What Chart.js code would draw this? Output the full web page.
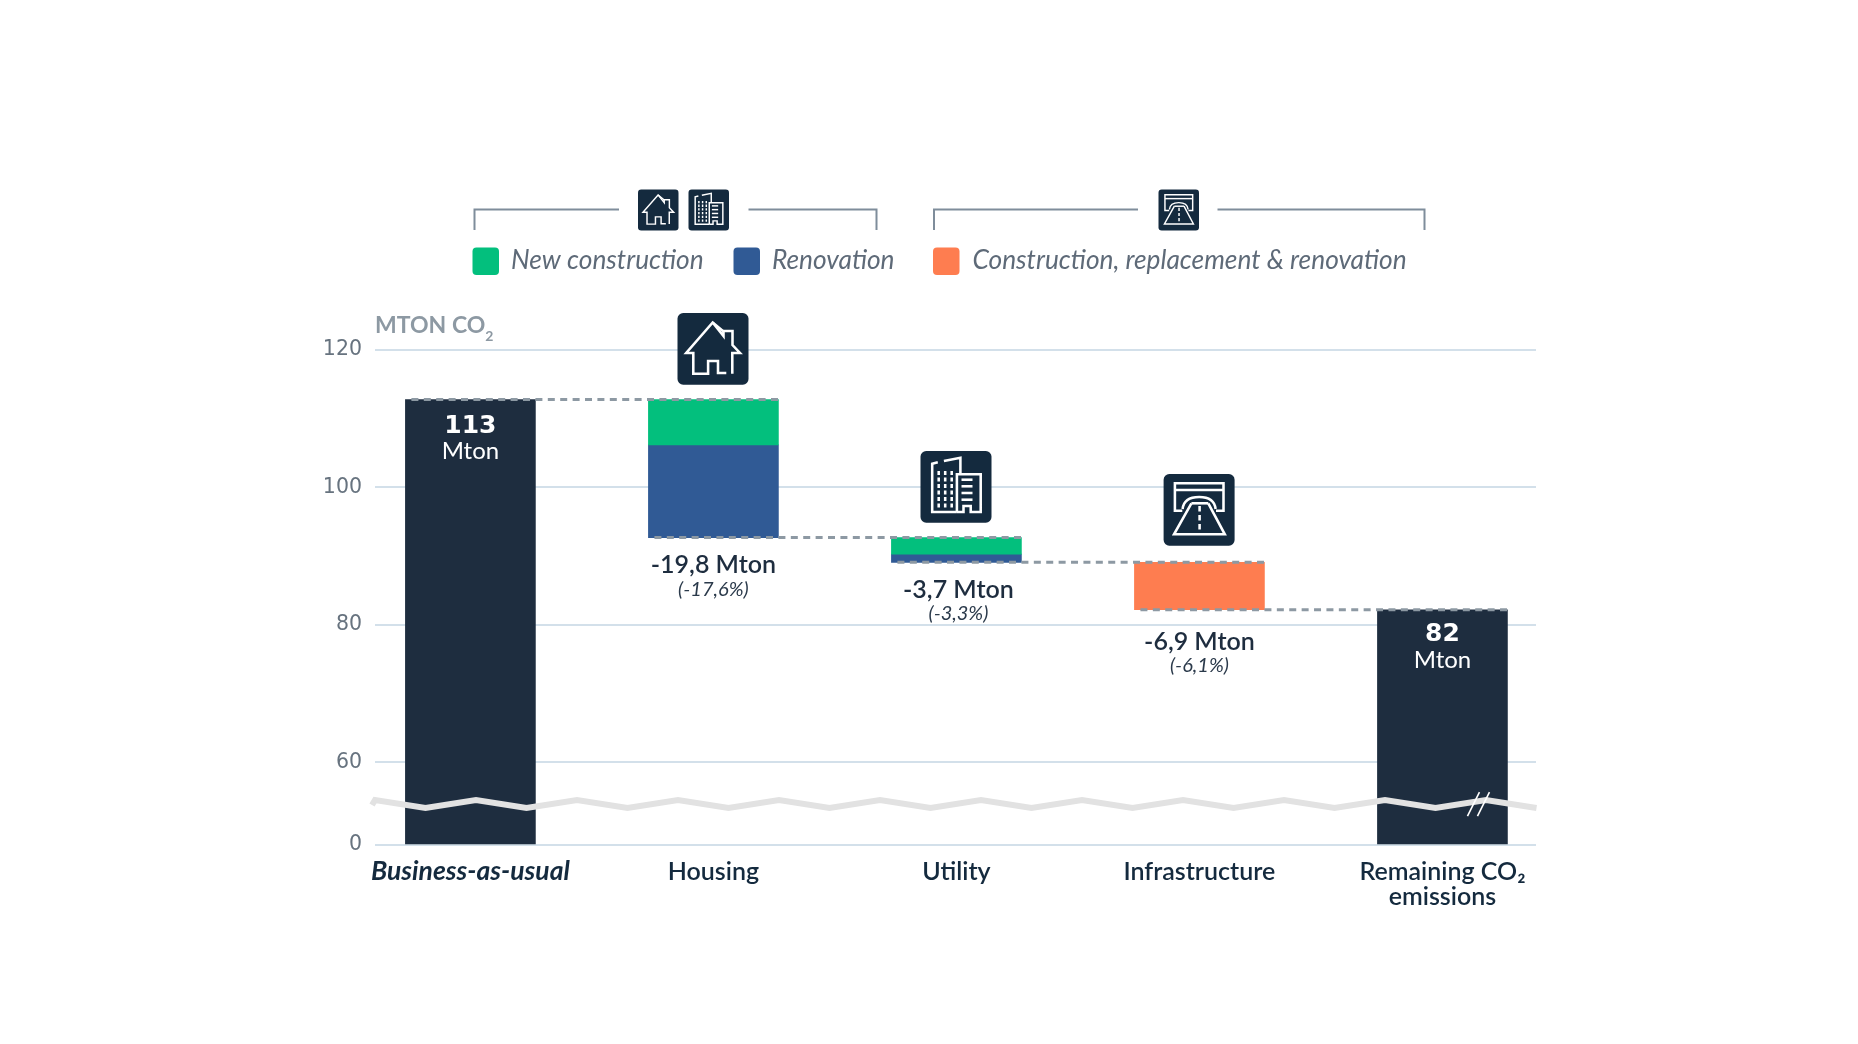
<!DOCTYPE html>
<html><head><meta charset="utf-8">
<style>html,body{margin:0;padding:0;background:#fff}canvas{display:block}</style>
<script src="https://cdn.jsdelivr.net/npm/chart.js@4/dist/chart.umd.js"></script>
</head><body><canvas id="c" width="1858" height="1044"></canvas>
<script>
const CATEGORIES = ['Business-as-usual','Housing','Utility','Infrastructure',['Remaining CO₂','emissions']];
const Y_TICKS = [0,60,80,100,120];
const TOTALS = [112.8,null,null,null,82.2];
const NEW_CONSTRUCTION = [null,[106.2,112.8],[90.3,92.7],null,null];
const RENOVATION = [null,[92.7,106.2],[89.1,90.3],null,null];
const INFRASTRUCTURE = [null,null,null,[82.2,89.1],null];
const CONNECTORS = [112.8,92.7,89.1,82.2];
const TOTAL_LABELS = ['113',null,null,null,'82'];
const DELTA_LABELS = [null,'-19,8 Mton','-3,7 Mton','-6,9 Mton',null];
const PERCENT_LABELS = [null,'(-17,6%)','(-3,3%)','(-6,1%)',null];

const NAVY='#1e2d3f', ICON_BG='#142a3e', GREEN='#03bf7d', BLUE='#305a95', ORANGE='#fe7d50';
const FONT='Lato, "Noto Sans", sans-serif';

class BrokenLinearScale extends Chart.LinearScale {
  _dec(v){const b=this.options.breakValue,f=this.options.breakFraction;
    return v<=b? v/b*f : f+(v-b)/(this.max-b)*(1-f);}
  getPixelForValue(v){return v===null?NaN:this.getPixelForDecimal(this._dec(v));}
}
BrokenLinearScale.id='brokenLinear';
BrokenLinearScale.defaults=Chart.LinearScale.defaults;
class PaddedCategoryScale extends Chart.CategoryScale {
  getPixelForValue(v){
    if(typeof v!=='number') v=this.parse(v);
    if(v===null) return NaN;
    const o=this.options;
    return this.getPixelForDecimal((v-o.rangeStart)/(o.rangeEnd-o.rangeStart));
  }
}
PaddedCategoryScale.id='paddedCategory';
PaddedCategoryScale.defaults=Chart.CategoryScale.defaults;
Chart.register(BrokenLinearScale,PaddedCategoryScale);

function iconBox(ctx,x,y,s){
  ctx.fillStyle=ICON_BG;ctx.beginPath();ctx.roundRect(x,y,s,s*1.01,s*0.08);ctx.fill();
  ctx.strokeStyle='#fff';ctx.lineWidth=Math.max(1.2,s*0.036);ctx.lineJoin='miter';ctx.lineCap='butt';
}
function poly(ctx,x,y,k,pts){ctx.beginPath();pts.forEach((p,i)=>i?ctx.lineTo(x+p[0]*k,y+p[1]*k):ctx.moveTo(x+p[0]*k,y+p[1]*k));ctx.stroke();}
function drawIcon(ctx,name,x,y,s){
  iconBox(ctx,x,y,s);const k=s/71;
  if(name==='house'){
    poly(ctx,x,y,k,[[46,18.5],[35.2,9.5],[8.7,40],[15.8,40],[15.8,60.7],[30.6,60.7],[30.6,48],[40.5,48],[40.5,60],[48.8,60]]);
    poly(ctx,x,y,k,[[35.2,9.5],[46,23],[46,18],[55,18],[55,32],[62.5,40],[54.8,40],[54.8,60.7]]);
  } else if(name==='building'){
    poly(ctx,x,y,k,[[17.3,11.3],[11.7,12.7],[11.7,61],[36.4,61]]);
    poly(ctx,x,y,k,[[23.4,10],[39.9,6.7],[39.9,22.7]]);
    poly(ctx,x,y,k,[[36.4,61],[36.4,23.3],[60.2,23.3],[60.2,61],[50.2,61],[50.2,55],[43,55],[43,61],[36.4,61]]);
    [28.7,35.3,42,48.7].forEach(v=>poly(ctx,x,y,k,[[41,v],[52,v]]));
    ctx.setLineDash([4*k,2.5*k]);
    [18.2,24.7,31.2].forEach(v=>poly(ctx,x,y,k,[[v,20],[v,57]]));
    ctx.setLineDash([]);
  } else {
    poly(ctx,x,y,k,[[18.7,36.7],[11.3,36.7],[11.3,9.3],[59.9,9.3],[59.9,36.7],[52.4,36.7]]);
    poly(ctx,x,y,k,[[11.3,16],[59.9,16]]);
    ctx.beginPath();ctx.moveTo(x+19*k,y+35*k);ctx.bezierCurveTo(x+20*k,y+26*k,x+27*k,y+23*k,x+35.6*k,y+23*k);ctx.bezierCurveTo(x+44*k,y+23*k,x+51*k,y+26*k,x+52*k,y+35*k);ctx.stroke();
    poly(ctx,x,y,k,[[27.8,29.3],[10.4,60.3],[61.2,60.3],[44.7,29.3]]);
    poly(ctx,x,y,k,[[27.8,29.3],[44.7,29.3]]);
    ctx.setLineDash([5.5*k,3.5*k]);poly(ctx,x,y,k,[[36,32],[36,57]]);ctx.setLineDash([]);
  }
}
function text(ctx,str,x,y,font,color,align){
  ctx.font=font;ctx.fillStyle=color;ctx.textAlign=align||'center';ctx.textBaseline='middle';ctx.fillText(str,x,y);
}

const overlay={
  id:'overlay',
  afterDatasetsDraw(chart){
    const {ctx,scales:{x,y},data}=chart, half=chart.getDatasetMeta(0).data[0].width/2;
    ctx.save();
    ctx.strokeStyle='#8d99a3';ctx.lineWidth=3;ctx.setLineDash([7,5.4]);
    CONNECTORS.forEach((v,i)=>{
      const py=y.getPixelForValue(v);
      ctx.beginPath();ctx.moveTo(x.getPixelForValue(i)-half+6,py);ctx.lineTo(x.getPixelForValue(i+1)+half,py);ctx.stroke();
    });
    ctx.setLineDash([]);
    // axis break
    ctx.strokeStyle='#e2e2e2';ctx.lineWidth=6;ctx.lineJoin='miter';
    ctx.beginPath();
    const bp=y.getPixelForValue(29.7), period=(x.getPixelForValue(1)-x.getPixelForValue(0))/2.406;
    const xs=chart.chartArea.left, xe=chart.chartArea.right;
    let step=0;ctx.moveTo(xs-3,bp+1);
    for(let px=xs;px<=xe+1;px+=period/2,step++) ctx.lineTo(px,bp+(step%2? 4:-4));
    ctx.stroke();
    const cx=x.getPixelForValue(4);
    ctx.strokeStyle='#fff';ctx.lineWidth=1.6;
    [0,10].forEach(d=>{ctx.beginPath();ctx.moveTo(cx+25+d,bp+12);ctx.lineTo(cx+37+d,bp-12);ctx.stroke();});
    const labelColor='#1e2d3f';
    CATEGORIES.forEach((c,i)=>{
      const cxx=x.getPixelForValue(i);
      if(TOTAL_LABELS[i]){
        const top=y.getPixelForValue(TOTALS[i]);
        text(ctx,TOTAL_LABELS[i],cxx,top+(i?25:27),'bold 25px "DejaVu Sans"','#fff');
        text(ctx,'Mton',cxx,top+(i?50:52),'24px '+FONT,'#fff');
      }
      if(DELTA_LABELS[i]){
        const bot=y.getPixelForValue(NEW_CONSTRUCTION[i]?RENOVATION[i][0]:INFRASTRUCTURE[i][0]);
        const extra=i===3?4.5:0;
        text(ctx,DELTA_LABELS[i],cxx+(i===2?2:0),bot+27.5+extra,'600 25px '+FONT,labelColor);
        text(ctx,PERCENT_LABELS[i],cxx+(i===2?2:0),bot+51.5+extra,'italic 20px '+FONT,'#2b3a4b');
      }
    });
    ctx.textBaseline='alphabetic';ctx.textAlign='left';ctx.fillStyle='#8d99a3';
    ctx.font='bold 23px '+FONT;ctx.fillText('MTON CO',chart.chartArea.left,333);
    const w=ctx.measureText('MTON CO').width;
    ctx.font='bold 14px '+FONT;ctx.fillText('2',chart.chartArea.left+w,341);
    [[677.5,313,'house'],[920.5,451,'building'],[1163.6,474,'road']].forEach(a=>drawIcon(ctx,a[2],a[0],a[1],71));
    ctx.strokeStyle='#7f8d9b';ctx.lineWidth=2;
    [[[474.5,230],[474.5,209.5],[619,209.5]],[[748.5,209.5],[876.5,209.5],[876.5,230]],
     [[934,230],[934,209.5],[1138,209.5]],[[1217.5,209.5],[1424.5,209.5],[1424.5,230]]]
      .forEach(p=>poly(ctx,0,0,1,p));
    [[638,189.5,'house'],[688.5,189.5,'building'],[1158.5,189.5,'road']].forEach(a=>drawIcon(ctx,a[2],a[0],a[1],40.5));
    [[472.5,511,1],[733.5,772,2],[933,972.5,3]].forEach(a=>{
      const ds=data.datasets[a[2]];
      ctx.fillStyle=ds.backgroundColor;ctx.beginPath();ctx.roundRect(a[0],247.5,26.5,27.5,4);ctx.fill();
      text(ctx,ds.label,a[1],261,'italic 26.3px '+FONT,'#5e6a78','left');
    });
    ctx.restore();
  }
};

new Chart(document.getElementById('c'),{
  type:'bar',
  data:{labels:CATEGORIES,datasets:[
    {label:'Total',data:TOTALS,backgroundColor:NAVY},
    {label:'New construction',data:NEW_CONSTRUCTION,backgroundColor:GREEN},
    {label:'Renovation',data:RENOVATION,backgroundColor:BLUE},
    {label:'Construction, replacement & renovation',data:INFRASTRUCTURE,backgroundColor:ORANGE}
  ]},
  options:{
    responsive:false,animation:false,devicePixelRatio:1,
    layout:{padding:{left:275,right:322,top:350,bottom:99}},
    datasets:{bar:{grouped:false,barThickness:130,borderWidth:0,borderSkipped:false}},
    plugins:{legend:{display:false},tooltip:{enabled:false},title:{display:false}},
    scales:{
      x:{type:'paddedCategory',rangeStart:-0.3926,rangeEnd:4.385,
        afterFit:s=>{s.height=100},
        grid:{display:false},border:{display:false},
        ticks:{autoSkip:false,maxRotation:0,minRotation:0,padding:6,color:'#142a3e',
          font:c=>c.index===0?{family:FONT,size:26.5,weight:'bold',style:'italic',lineHeight:0.95}:{family:FONT,size:25,weight:'600',lineHeight:1}}},
      y:{type:'brokenLinear',min:0,max:120,breakValue:60,breakFraction:0.167,
        afterFit:s=>{s.width=100},
        afterBuildTicks:s=>{s.ticks=Y_TICKS.map(v=>({value:v}))},
        grid:{color:'#d3e0ea',lineWidth:2,drawTicks:false},border:{display:false},
        ticks:{autoSkip:false,padding:13,color:'#67737f',labelOffset:0,font:{family:'"DejaVu Sans"',size:20.5}}}
    }
  },
  plugins:[overlay]
});
</script></body></html>
